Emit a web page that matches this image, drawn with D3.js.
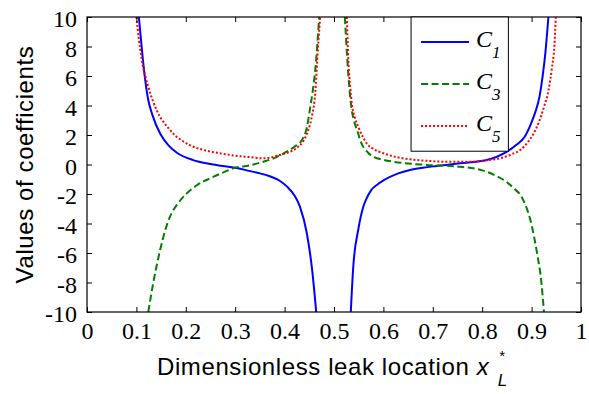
<!DOCTYPE html>
<html>
<head>
<meta charset="utf-8">
<script src="https://cdn.jsdelivr.net/npm/d3@7"></script>
<style>
  body { margin: 0; background: #fff; }
</style>
</head>
<body>
<div id="chart"></div>
<script>
// Data: [x*_L, value]
const c1Left = [[0.105,10],[0.112,7.5],[0.117,5.95],[0.124,4.37],[0.132,3.4],[0.148,2.1],[0.165,1.3],[0.182,0.8],[0.215,0.3],[0.242,0.08],[0.27,-0.08],[0.30,-0.22],[0.33,-0.45],[0.35,-0.6],[0.37,-0.8],[0.39,-1.1],[0.405,-1.5],[0.42,-2.1],[0.431,-2.86],[0.445,-4.66],[0.455,-6.93],[0.464,-10]];
const c1Right = [[0.534,-10],[0.539,-6.93],[0.549,-4.44],[0.559,-2.9],[0.566,-2.3],[0.575,-1.75],[0.588,-1.35],[0.60,-1.08],[0.63,-0.6],[0.654,-0.37],[0.68,-0.22],[0.708,-0.1],[0.755,0.08],[0.809,0.3],[0.85,0.87],[0.87,1.35],[0.886,1.88],[0.898,2.7],[0.908,3.6],[0.916,4.6],[0.922,5.9],[0.928,7.6],[0.934,10]];
const c3Left = [[0.124,-10],[0.134,-8.05],[0.148,-5.8],[0.158,-4.5],[0.168,-3.54],[0.185,-2.6],[0.202,-1.96],[0.225,-1.35],[0.249,-0.94],[0.275,-0.55],[0.296,-0.26],[0.33,-0.05],[0.357,0.19],[0.38,0.45],[0.404,0.87],[0.42,1.2],[0.435,1.66],[0.445,2.5],[0.451,3.69],[0.457,5.0],[0.462,6.4],[0.47,10]];
const c3Right = [[0.522,10],[0.527,7.08],[0.531,5.2],[0.536,3.69],[0.542,2.8],[0.549,2.1],[0.553,1.66],[0.569,0.8],[0.58,0.53],[0.60,0.32],[0.62,0.19],[0.688,-0.03],[0.755,-0.15],[0.785,-0.28],[0.809,-0.49],[0.83,-0.8],[0.85,-1.2],[0.865,-1.65],[0.877,-2.05],[0.887,-2.7],[0.897,-3.7],[0.905,-4.9],[0.912,-6.2],[0.92,-8.05],[0.925,-10]];
const c5Left = [[0.100,10],[0.105,8.5],[0.111,7.08],[0.124,5.27],[0.141,3.69],[0.168,2.34],[0.208,1.32],[0.24,0.95],[0.269,0.76],[0.30,0.6],[0.33,0.5],[0.357,0.42],[0.375,0.5],[0.39,0.64],[0.41,0.85],[0.424,1.1],[0.438,1.6],[0.448,2.34],[0.456,3.4],[0.462,4.83],[0.466,7.08],[0.472,10]];
const c5Right = [[0.526,10],[0.529,7.08],[0.533,5.2],[0.536,4.15],[0.542,3.2],[0.549,2.56],[0.558,1.9],[0.566,1.44],[0.58,1.05],[0.60,0.76],[0.627,0.5],[0.654,0.35],[0.69,0.25],[0.721,0.19],[0.775,0.19],[0.81,0.28],[0.836,0.42],[0.86,0.7],[0.877,0.98],[0.892,1.5],[0.904,2.1],[0.915,2.9],[0.925,3.9],[0.934,5.0],[0.941,6.5],[0.946,8.0],[0.949,10]];

const xTicks = [0,0.1,0.2,0.3,0.4,0.5,0.6,0.7,0.8,0.9,1];
const yTicks = [-10,-8,-6,-4,-2,0,2,4,6,8,10];
const seriesNames = ["1","3","5"];
const seriesColors = ["#0000ff","#008000","#ff0000"];
const seriesDash = [null,"7,3.5","2,2"];

// Dimensions et marges
const W = 589, H = 394;
const margin = { top: 17, right: 8, bottom: 82, left: 87 },
      width = W - margin.left - margin.right,
      height = H - margin.top - margin.bottom;

const svg = d3.select("#chart").append("svg")
    .attr("width", W)
    .attr("height", H)
    .append("g")
    .attr("transform", `translate(${margin.left},${margin.top})`);

const x = d3.scaleLinear().domain([0,1]).range([0,width]);
const y = d3.scaleLinear().domain([-10,10]).range([height,0]);

const serif = "'Liberation Serif', 'Times New Roman', serif";
const sans = "'Liberation Sans', Arial, sans-serif";

svg.append("clipPath").attr("id","clip")
    .append("rect").attr("width", width).attr("height", height);

// Courbes
const line = d3.line().x(d => x(d[0])).y(d => y(d[1])).curve(d3.curveMonotoneX);
const branches = [[c1Left,0],[c1Right,0],[c3Left,1],[c3Right,1],[c5Left,2],[c5Right,2]];
svg.append("g").attr("clip-path","url(#clip)")
    .selectAll("path")
    .data(branches)
    .enter().append("path")
    .attr("d", d => line(d[0]))
    .attr("fill","none")
    .attr("stroke", d => seriesColors[d[1]])
    .attr("stroke-width", 2)
    .attr("stroke-dasharray", d => seriesDash[d[1]]);

// Axes (ticks vers l'intérieur, sur les 4 côtés)
function styleAxis(g) {
  g.attr("font-family", null).attr("font-size", null);
  g.select(".domain").remove();
  g.selectAll("line").attr("stroke","#000");
  g.selectAll("text")
    .style("font-family", serif)
    .style("font-size", "24px")
    .attr("fill","#000");
}
svg.append("g").attr("transform",`translate(0,${height})`)
    .call(d3.axisBottom(x).tickValues(xTicks).tickSize(-5).tickPadding(10).tickFormat(d3.format("")))
    .call(styleAxis);
svg.append("g")
    .call(d3.axisTop(x).tickValues(xTicks).tickSize(-5).tickFormat(""))
    .call(styleAxis);
svg.append("g")
    .call(d3.axisLeft(y).tickValues(yTicks).tickSize(-5).tickPadding(10).tickFormat(d => d < 0 ? "-" + Math.abs(d) : d))
    .call(styleAxis)
    .selectAll("text").attr("dy","0.4em");
svg.append("g").attr("transform",`translate(${width},0)`)
    .call(d3.axisRight(y).tickValues(yTicks).tickSize(-5).tickFormat(""))
    .call(styleAxis);

svg.append("rect")
    .attr("width", width).attr("height", height)
    .attr("fill","none").attr("stroke","#000").attr("stroke-width",1.2);

// Légende
const legX = x(0.656), legY = 0, legW = x(0.853) - x(0.656), legH = y(0.9) - y(10);
const legend = svg.append("g").attr("transform",`translate(${legX},${legY})`);
legend.append("rect")
    .attr("width", legW).attr("height", legH)
    .attr("fill","#fff").attr("stroke","#000").attr("stroke-width",1);
const items = legend.selectAll(".item")
    .data(seriesNames)
    .enter().append("g")
    .attr("class","item")
    .attr("transform",(d,i) => `translate(0,${25 + i*42})`);
items.append("line")
    .attr("x1",10).attr("x2",58)
    .attr("stroke",(d,i) => seriesColors[i])
    .attr("stroke-width",2)
    .attr("stroke-dasharray",(d,i) => seriesDash[i]);
const lt = items.append("text")
    .attr("x",65).attr("y",5)
    .style("font-family", serif).attr("font-style","italic")
    .style("font-size","24px");
lt.append("tspan").text("C");
lt.append("tspan").attr("dy",11).style("font-size","17px").text(d => d);

// Titres des axes
const xt = svg.append("text")
    .attr("x", 157 - margin.left).attr("y", 375 - margin.top)
    .style("font-family", sans).style("font-size","24px")
    .attr("letter-spacing","0.6px");
xt.append("tspan").text("Dimensionless leak location ");
xt.append("tspan").attr("font-style","italic").text("x");
xt.append("tspan").attr("dy",-14).attr("dx",10).style("font-size","15px").text("*");
xt.append("tspan").attr("dy",25).attr("dx",-8).style("font-size","17px").attr("font-style","italic").text("L");

svg.append("text")
    .attr("transform",`translate(${33 - margin.left},${height/2}) rotate(-90)`)
    .attr("text-anchor","middle")
    .style("font-family", sans).style("font-size","24px")
    .attr("letter-spacing","0.6px")
    .text("Values of coefficients");
</script>
</body>
</html>
